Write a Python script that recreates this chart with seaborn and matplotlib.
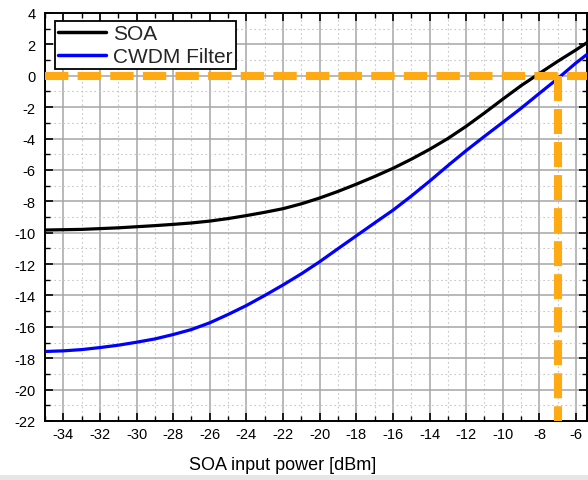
import numpy as np
import pandas as pd
import matplotlib
matplotlib.use("Agg")
import matplotlib.pyplot as plt
from matplotlib.ticker import MultipleLocator
from matplotlib.patches import Rectangle
import seaborn as sns

# ---- data ----
input_power = [-35, -34, -33, -32, -31, -30, -29, -28, -27, -26, -25, -24, -23, -22, -21,
               -20, -19, -18, -17, -16, -15, -14, -13, -12, -11, -10, -9, -8, -7, -6, -5]
soa_out = [-9.83, -9.81, -9.79, -9.74, -9.69, -9.62, -9.55, -9.47, -9.38, -9.26, -9.10,
           -8.91, -8.70, -8.47, -8.16, -7.79, -7.37, -6.91, -6.42, -5.90, -5.32, -4.69,
           -4.00, -3.22, -2.37, -1.49, -0.63, 0.15, 0.92, 1.65, 2.42]
cwdm_out = [-17.57, -17.53, -17.45, -17.32, -17.17, -16.98, -16.77, -16.49, -16.17, -15.74,
            -15.21, -14.64, -14.00, -13.33, -12.62, -11.85, -11.02, -10.20, -9.38, -8.57,
            -7.67, -6.72, -5.73, -4.77, -3.86, -2.97, -2.07, -1.12, -0.18, 0.82, 1.72]
series_names = ["SOA", "CWDM Filter"]
threshold_y = 0
threshold_x = -7
x_label = "SOA input power [dBm]"

df = pd.DataFrame({
    "x": input_power * 2,
    "y": soa_out + cwdm_out,
    "series": [series_names[0]] * len(input_power) + [series_names[1]] * len(input_power),
})

sns.set_theme(style="white")
plt.rcParams["font.family"] = ["Liberation Sans", "DejaVu Sans"]
plt.rcParams["axes.unicode_minus"] = False

fig = plt.figure(figsize=(5.88, 4.81), dpi=100)
ax = fig.add_axes([45 / 588, 1 - 422 / 481, 542 / 588, 408 / 481])

xmin, xmax = -35, -5.4
ymin, ymax = -22, 4

ax.xaxis.set_major_locator(MultipleLocator(2))
ax.xaxis.set_minor_locator(MultipleLocator(1))
ax.yaxis.set_major_locator(MultipleLocator(2))
ax.yaxis.set_minor_locator(MultipleLocator(1))
ax.grid(which="major", color="#a6a6a6", linestyle="-", linewidth=1.1, zorder=0)
ax.grid(which="minor", color="#c8c8c8", linestyle=(0, (1.5, 2.5)), linewidth=0.8, zorder=0)
ax.set_axisbelow(True)

sns.lineplot(data=df, x="x", y="y", hue="series", palette=["#000000", "#0000ff"],
             linewidth=2.3, ax=ax, legend=True, zorder=3)

orange = "#FFAA12"
ax.axhline(threshold_y, color=orange, linewidth=5.8, dashes=(2.9, 1.15),
           solid_capstyle="butt", dash_capstyle="butt", zorder=5)
ax.plot([threshold_x, threshold_x], [threshold_y, ymin], color=orange, linewidth=5.8,
        dashes=(3.1, 1.0), dash_capstyle="butt", zorder=5, clip_on=True)

ax.set_xlim(xmin, xmax)
ax.set_ylim(ymin, ymax)
ax.set_xticks(np.arange(-34, -5, 2))
ax.set_yticks(np.arange(-22, 5, 2))

for s in ax.spines.values():
    s.set_color("black")
    s.set_linewidth(1.4)

ax.tick_params(which="major", direction="in", length=5.5, width=1.2, color="black",
               top=True, right=True, bottom=True, left=True, labelsize=10.5,
               labelcolor="black")
ax.tick_params(which="minor", direction="in", length=3.5, width=1.0, color="black",
               top=True, right=True, bottom=True, left=True)
ax.tick_params(axis="x", which="major", pad=4)
ax.tick_params(axis="y", which="major", pad=7)

ax.set_xlabel(x_label, fontsize=13, color="black")
ax.set_ylabel("")
ax.xaxis.set_label_coords((283 - 45) / 542, -0.086)

leg = ax.legend(loc="upper left", bbox_to_anchor=(10 / 542, 1 - 8 / 408), borderaxespad=0,
                fontsize=15, handlelength=2.3, handletextpad=0.35, labelspacing=0.2,
                borderpad=0.15, fancybox=False, frameon=True, framealpha=1, edgecolor="black",
                title=None)
leg.get_frame().set_linewidth(1.3)
for line in leg.get_lines():
    line.set_linewidth(2.5)
leg.set_zorder(4)

fig.patches.append(Rectangle((0, 0), 1, 5 / 481, transform=fig.transFigure,
                             facecolor="#e6e6e6", edgecolor="none", zorder=0))

fig.savefig("out.png", dpi=100)
